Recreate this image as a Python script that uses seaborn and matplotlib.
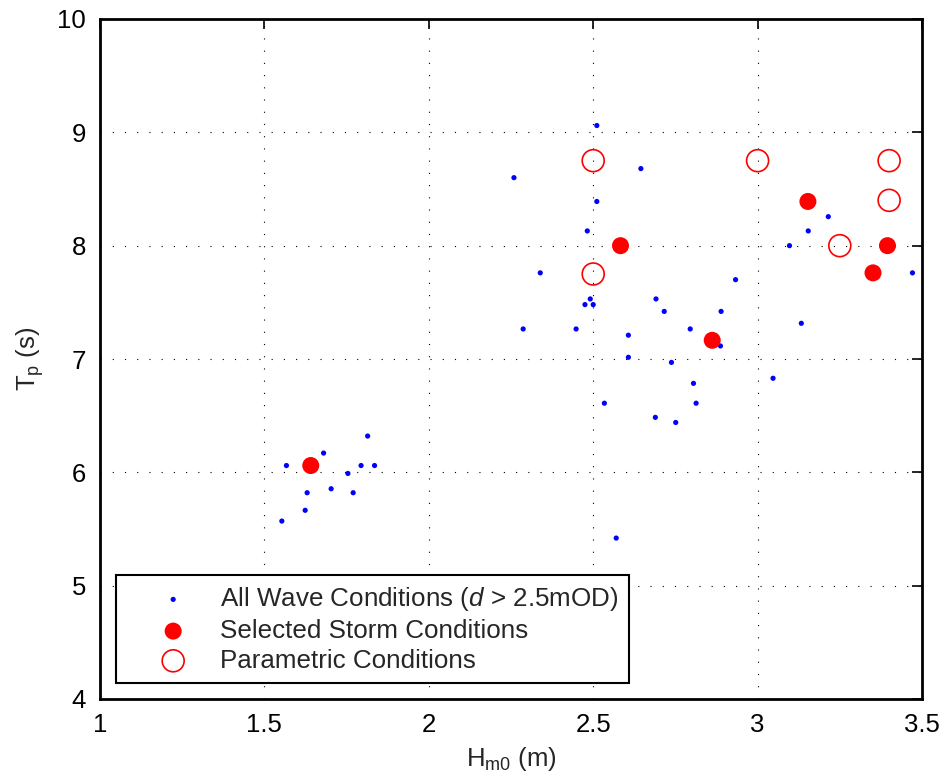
import matplotlib
matplotlib.use("Agg")
import matplotlib.pyplot as plt
import seaborn as sns
import pandas as pd

# All wave conditions (blue dots)
all_hm0 = [1.553, 1.567, 1.624, 1.630, 1.680, 1.703, 1.754, 1.770, 1.794, 1.814, 1.835,
           2.259, 2.511, 2.645, 2.511, 2.482, 2.339, 2.491, 2.475, 2.500, 2.448, 2.287,
           2.691, 2.716, 2.889, 2.933, 2.607, 2.795, 2.887, 2.607, 2.738, 3.047, 2.805,
           2.534, 2.813, 2.689, 2.751, 2.570, 3.215, 3.154, 3.097, 3.471, 3.133]
all_tp = [5.57, 6.06, 5.665, 5.82, 6.17, 5.855, 5.99, 5.82, 6.06, 6.32, 6.06,
          8.60, 9.06, 8.68, 8.39, 8.13, 7.76, 7.53, 7.48, 7.48, 7.265, 7.265,
          7.53, 7.42, 7.42, 7.70, 7.21, 7.265, 7.115, 7.015, 6.97, 6.83, 6.785,
          6.61, 6.61, 6.485, 6.44, 5.42, 8.256, 8.13, 8.00, 7.76, 7.315]

# Selected storm conditions (red filled)
storm_hm0 = [1.641, 2.583, 2.862, 3.153, 3.395, 3.351]
storm_tp = [6.06, 8.00, 7.165, 8.39, 8.00, 7.76]

# Parametric conditions (red open)
param_hm0 = [2.5, 2.5, 3.0, 3.4, 3.4, 3.25]
param_tp = [8.75, 7.75, 8.75, 8.75, 8.4, 8.0]

x_ticks = [1, 1.5, 2, 2.5, 3, 3.5]
x_labels = ["1", "1.5", "2", "2.5", "3", "3.5"]
y_ticks = [4, 5, 6, 7, 8, 9, 10]

sns.set_style("white")
plt.rcParams['font.family'] = ['Liberation Sans', 'DejaVu Sans']
plt.rcParams['mathtext.fontset'] = 'custom'
plt.rcParams['mathtext.rm'] = 'Liberation Sans'
plt.rcParams['mathtext.it'] = 'Liberation Sans:italic'

df_all = pd.DataFrame({"Hm0": all_hm0, "Tp": all_tp})
df_storm = pd.DataFrame({"Hm0": storm_hm0, "Tp": storm_tp})
df_param = pd.DataFrame({"Hm0": param_hm0, "Tp": param_tp})

fig = plt.figure(figsize=(9.47, 7.81), dpi=100)
ax = fig.add_axes([100/947, 1-699/781, 822/947, 680/781])

sns.scatterplot(data=df_all, x="Hm0", y="Tp", ax=ax, color="#0000ff", s=14,
                edgecolor="none", label="All Wave Conditions ($\\mathit{d}$ > 2.5mOD)", zorder=3)
sns.scatterplot(data=df_storm, x="Hm0", y="Tp", ax=ax, color="#ff0000", s=150,
                edgecolor="none", label="Selected Storm Conditions", zorder=4)
sns.scatterplot(data=df_param, x="Hm0", y="Tp", ax=ax, facecolor="none", s=250,
                edgecolor="#ff0000", linewidth=1.2, label="Parametric Conditions", zorder=4)

ax.set_xlim(1, 3.5)
ax.set_ylim(4, 10)
ax.set_xticks(x_ticks)
ax.set_xticklabels(x_labels)
ax.set_yticks(y_ticks)
ax.tick_params(direction="in", length=7, width=1.2, labelsize=18.5, top=True, right=True,
               pad=10, colors="black")
ax.grid(True, linestyle=(0, (1, 10)), color="black", linewidth=0.8)
for sp in ax.spines.values():
    sp.set_visible(True)
    sp.set_linewidth(2)
    sp.set_color("black")

ax.set_xlabel("H$_{\\mathrm{m0}}$ (m)", fontsize=18.5, labelpad=6)
ax.set_ylabel("T$_{\\mathrm{p}}$ (s)", fontsize=18.5, labelpad=8)

leg = ax.legend(loc="lower left", bbox_to_anchor=(0.0195, 0.0235), borderaxespad=0,
                fontsize=18.7, frameon=True, fancybox=False, edgecolor="black",
                framealpha=1, handletextpad=0.0, borderpad=0.4, labelspacing=0.22,
                handlelength=3.6)
leg.get_frame().set_linewidth(1.5)

fig.savefig("out.png", dpi=100)
